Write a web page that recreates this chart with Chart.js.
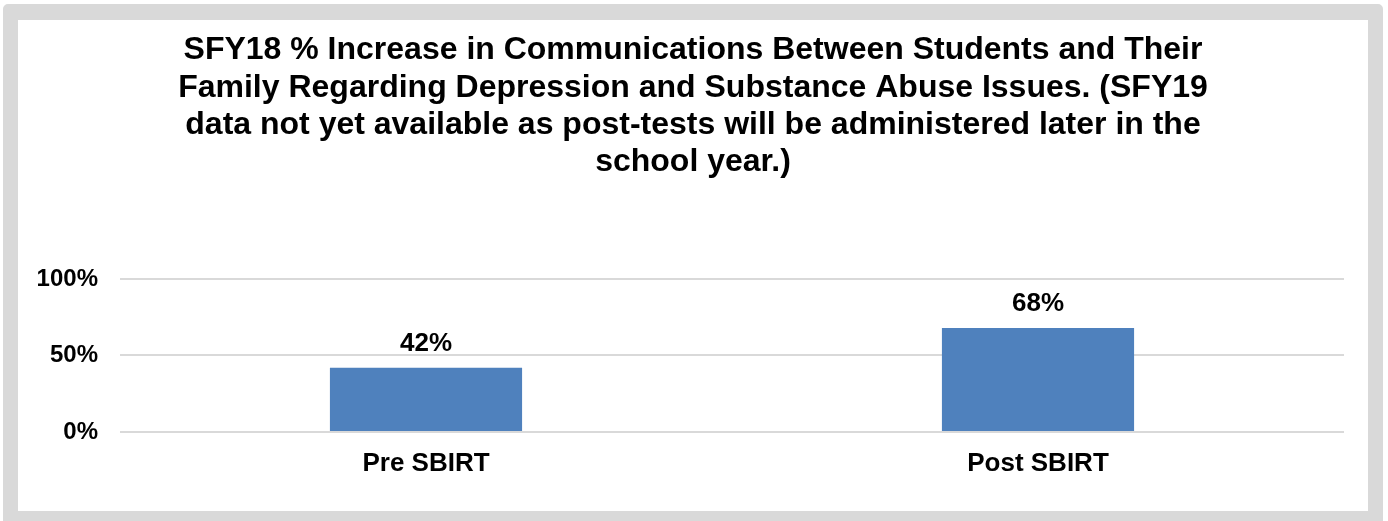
<!DOCTYPE html>
<html>
<head>
<meta charset="utf-8">
<script src="https://cdn.jsdelivr.net/npm/chart.js@4/dist/chart.umd.min.js"></script>
<style>
  html, body { margin: 0; padding: 0; background: #fff; }
  #frame {
    position: absolute; left: 3px; top: 4px;
    width: 1380px; height: 522px;
    box-sizing: border-box;
    border: 15px solid #d9d9d9; border-top-width: 16px;
    border-radius: 5px;
    background: #fff;
  }
  #wrap { position: relative; width: 1350px; height: 490px; }
</style>
</head>
<body>
<div id="frame"><div id="wrap"><canvas id="chart"></canvas></div></div>
<script>
// chart data
const categories = ['Pre SBIRT', 'Post SBIRT'];
const percentValues = [42, 68];
const yTicks = [0, 50, 100];
const titleLines = [
  'SFY18 % Increase in Communications Between Students and Their',
  'Family Regarding Depression and Substance Abuse Issues. (SFY19',
  'data not yet available as post-tests will be administered later in the',
  'school year.)'
];

const FONT = '"Liberation Sans", Arial, Helvetica, sans-serif';

// value labels above each bar
const barLabels = {
  id: 'barLabels',
  afterDatasetsDraw(chart) {
    const ctx = chart.ctx;
    const meta = chart.getDatasetMeta(0);
    ctx.save();
    ctx.font = 'bold 26px ' + FONT;
    ctx.fillStyle = '#000';
    ctx.textAlign = 'center';
    ctx.textBaseline = 'alphabetic';
    meta.data.forEach((bar, i) => {
      ctx.fillText(percentValues[i] + '%', bar.x, bar.y - 17);
    });
    ctx.restore();
  }
};

new Chart(document.getElementById('chart'), {
  type: 'bar',
  data: {
    labels: categories,
    datasets: [{
      data: percentValues,
      backgroundColor: '#4f81bd',
      borderWidth: 0,
      categoryPercentage: 1,
      barPercentage: 0.314
    }]
  },
  options: {
    responsive: true,
    maintainAspectRatio: false,
    animation: false,
    layout: { padding: 0 },
    plugins: {
      legend: { display: false },
      tooltip: { enabled: false },
      title: {
        display: true,
        text: titleLines,
        color: '#000',
        font: { family: FONT, size: 32, weight: 'bold', lineHeight: 1.16 },
        padding: { top: 12, bottom: 98.5 }
      }
    },
    scales: {
      x: {
        grid: { display: false, drawTicks: false },
        border: { display: false },
        ticks: {
          color: '#000',
          font: { family: FONT, size: 26, weight: 'bold', lineHeight: 1.2 },
          padding: 16
        },
        afterFit(scale) { scale.height = 78; }
      },
      y: {
        min: 0,
        max: 100,
        afterBuildTicks(scale) { scale.ticks = yTicks.map(v => ({ value: v })); },
        grid: { color: '#d9d9d9', lineWidth: 2, drawTicks: false },
        border: { display: false },
        ticks: {
          color: '#000',
          font: { family: FONT, size: 24, weight: 'bold' },
          padding: 22,
          callback: v => v + '%'
        },
        afterFit(scale) { scale.width = 102; }
      },
      // empty right-hand margin so the title stays centred on the canvas
      yRight: {
        position: 'right',
        min: 0,
        max: 100,
        grid: { display: false, drawTicks: false },
        border: { display: false },
        ticks: { display: false },
        afterFit(scale) { scale.width = 24; }
      }
    }
  },
  plugins: [barLabels]
});
</script>
</body>
</html>
